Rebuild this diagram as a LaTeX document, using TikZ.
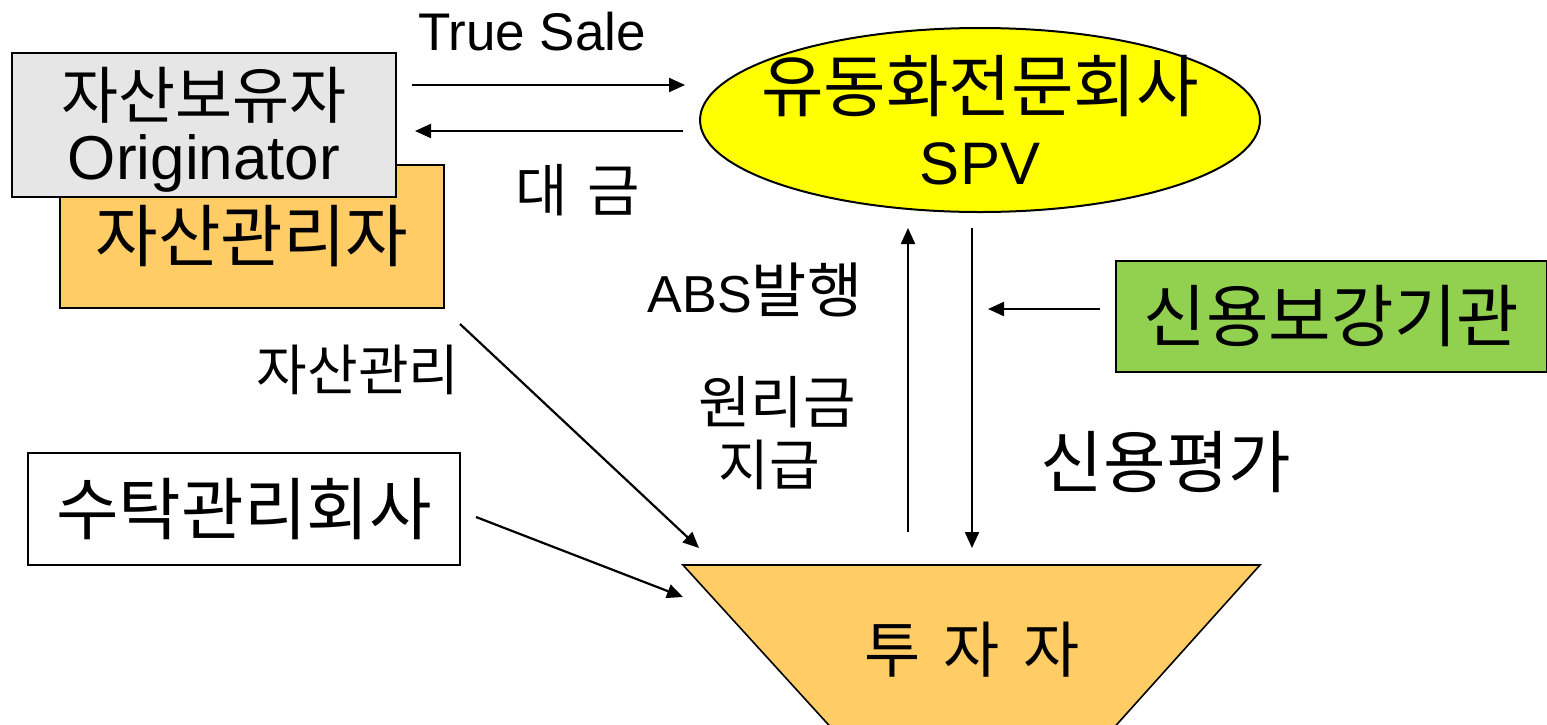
\documentclass[tikz,border=0pt]{standalone}
\usepackage{fontspec}
\setmainfont{Liberation Sans}
\newfontfamily\kr{Noto Sans CJK KR}
\usetikzlibrary{arrows.meta,shapes.geometric}
\definecolor{grayC}{HTML}{E6E6E6}
\definecolor{orangeC}{HTML}{FFCC66}
\definecolor{greenC}{HTML}{92D050}
\definecolor{yellowC}{HTML}{FFFF00}
\tikzset{
  box/.style={draw=black, line width=1pt, inner sep=0pt, align=center},
  arr/.style={line width=1.1pt, -{Triangle[length=8pt,width=7pt]}},
  lbl/.style={inner sep=0pt, align=center},
  bigkr/.style={font=\kr\fontsize{34}{40}\selectfont},
  smallkr/.style={font=\kr\fontsize{27.5}{33}\selectfont},
}
\begin{document}
\begin{tikzpicture}[x=0.5pt,y=-0.5pt]
\useasboundingbox (0,0) rectangle (1547,724);
\fill[white] (0,0) rectangle (1547,724);

% Asset manager (behind)
\node[box, bigkr, fill=orangeC, minimum width=192pt, minimum height=71.5pt] (mgr) at (252,236.5) {자산관리자};
% Originator (in front)
\node[box, fill=grayC, minimum width=192pt, minimum height=72pt] (orig) at (204,125) {};
\node[lbl, font=\kr\fontsize{31}{35}\selectfont] (origkr) at (204,95) {자산보유자};
\node[lbl, font=\fontsize{31}{35}\selectfont] (origen) at (204,163) {Originator};
% SPV
\node[ellipse, draw=black, line width=1pt, fill=yellowC, minimum width=280pt, minimum height=92pt,
      inner sep=0pt, align=center, font=\kr\fontsize{34}{36.5}\selectfont] (spv) at (980,120)
      {\makebox[0pt]{유동화전문회사}\\\makebox[0pt]{\rmfamily\fontsize{30}{36.5}\selectfont SPV}};
% Credit enhancer
\node[box, bigkr, fill=greenC, minimum width=215.5pt, minimum height=55.5pt] (cr) at (1331.5,316.5) {신용보강기관};
% Trustee
\node[box, bigkr, fill=white, minimum width=216pt, minimum height=56pt] (trust) at (244,509) {수탁관리회사};

% Investors (trapezoid, cut off at bottom)
\begin{scope}
\clip (0,0) rectangle (1547,724);
\filldraw[fill=orangeC, draw=black, line width=0.8pt] (683,565) -- (1260,565) -- (1049,800) -- (897,800) -- cycle;
\end{scope}
\node[lbl, font=\kr\fontsize{30.5}{36}\selectfont] (inv) at (972,650) {투\hspace{0.38em}자\hspace{0.38em}자};

% connector end points
\coordinate (ts1) at (412,85);
\coordinate (ts2) at (685,85);
\coordinate (pay1) at (683,131);
\coordinate (pay2) at (415,131);
\coordinate (up1) at (908,532);
\coordinate (up2) at (908,228);
\coordinate (dn1) at (972,228);
\coordinate (dn2) at (972,548);
\coordinate (ce1) at (1100,309);
\coordinate (ce2) at (988,309);
\coordinate (am1) at (460,324);
\coordinate (am2) at (699,548);
\coordinate (tr1) at (476,517);
\coordinate (tr2) at (683,597);

\draw[arr] (ts1) -- (ts2);
\draw[arr] (pay1) -- (pay2);
\draw[arr] (up1) -- (up2);
\draw[arr] (dn1) -- (dn2);
\draw[arr] (ce1) -- (ce2);
\draw[arr] (am1) -- (am2);
\draw[arr] (tr1) -- (tr2);

% labels
\node[lbl, font=\fontsize{26.5}{32}\selectfont] (lts) at (532,32) {True Sale};
\node[lbl, font=\kr\fontsize{28.5}{32}\selectfont] (lpay) at (578,190) {대\hspace{0.35em}금};
\node[lbl, font=\fontsize{26}{32}\selectfont] (labs) at (755,290) {ABS{\kr\fontsize{30}{32}\selectfont 발행}};
\node[lbl, font=\kr\fontsize{28.5}{32}\selectfont] (lprin) at (777,402) {원리금};
\node[lbl, font=\kr\fontsize{27.5}{32}\selectfont] (lpay2) at (769,465) {지급};
\node[lbl, bigkr] (lrate) at (1166,462) {신용평가};
\node[lbl, smallkr] (lam) at (358,370) {자산관리};
\end{tikzpicture}
\end{document}
